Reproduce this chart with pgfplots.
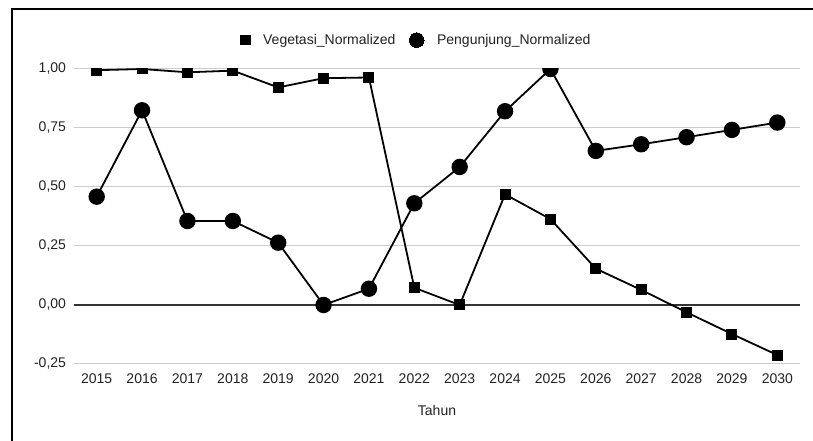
\documentclass[border=0pt]{standalone}
\usepackage{pgfplots}
\pgfplotsset{compat=1.18}
\usepackage{fontspec}
\setmainfont{Liberation Sans}
\definecolor{gridgray}{HTML}{CCCCCC}
\definecolor{zerogray}{HTML}{333333}
\definecolor{labelgray}{HTML}{222222}
\begin{document}
\begin{tikzpicture}[x=1pt,y=1pt]
\path[use as bounding box] (0,0) rectangle (813,441);
\draw[line width=2.2pt] (12,0) -- (12,432) -- (813,432);
\begin{axis}[
  at={(74pt,77pt)}, anchor=south west,
  scale only axis, width=726pt, height=295pt,
  xmin=2014.5, xmax=2030.5, ymin=-0.25, ymax=1.0,
  xtick=data,
  xticklabels={2015,2016,2017,2018,2019,2020,2021,2022,2023,2024,2025,2026,2027,2028,2029,2030},
  ytick={-0.25,0,0.25,0.5,0.75,1},
  yticklabels={{-0,25},{0,00},{0,25},{0,50},{0,75},{1,00}},
  axis line style={draw=none},
  major tick length=0pt,
  ymajorgrids, grid style={gridgray, line width=1pt},
  extra y ticks={0}, extra y tick labels={},
  extra y tick style={grid style={zerogray, line width=1.2pt}},
  tick label style={font=\fontsize{14}{16}\selectfont, text=labelgray},
  xticklabel style={anchor=north, yshift=-6.5pt},
  yticklabel style={anchor=east, xshift=-4.5pt},
  xlabel={Tahun},
  xlabel style={at={(axis description cs:0.5,-0.159)}, anchor=center, font=\fontsize{14}{16}\selectfont, text=labelgray},
  clip mode=individual,
  clip marker paths=true,
  legend columns=-1,
  legend style={draw=none, at={(0.472,1.098)}, anchor=center,
    font=\fontsize{14}{16}\selectfont, text=labelgray,
    /tikz/every odd column/.append style={column sep=11pt},
    /tikz/every even column/.append style={column sep=12pt}},
  legend image code/.code={\draw[#1, line width=0pt] plot coordinates {(0cm,0cm)};},
]
\addplot[black, line width=1.8pt, mark=square*, mark size=4.6pt, mark options={solid}] coordinates {
(2015,0.995) (2016,1.0) (2017,0.986) (2018,0.993) (2019,0.922) (2020,0.961)
(2021,0.964) (2022,0.073) (2023,0.0) (2024,0.469) (2025,0.364) (2026,0.154)
(2027,0.064) (2028,-0.031) (2029,-0.123) (2030,-0.212)};
\addlegendentry{Vegetasi\_Normalized}
\addplot[black, line width=1.8pt, mark=*, mark size=7.3pt, mark options={solid}] coordinates {
(2015,0.459) (2016,0.825) (2017,0.356) (2018,0.356) (2019,0.264) (2020,0.0)
(2021,0.069) (2022,0.431) (2023,0.585) (2024,0.821) (2025,1.0) (2026,0.653)
(2027,0.681) (2028,0.711) (2029,0.742) (2030,0.773)};
\addlegendentry{Pengunjung\_Normalized}
\end{axis}
\end{tikzpicture}
\end{document}
